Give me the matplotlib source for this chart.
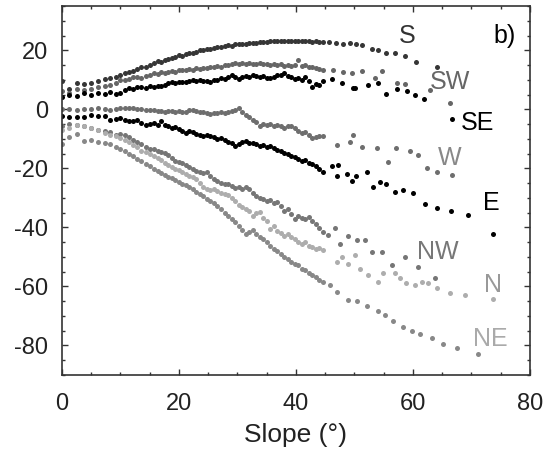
import numpy as np
import matplotlib
matplotlib.use("Agg")
import matplotlib.pyplot as plt
from matplotlib.ticker import MultipleLocator

plt.rcParams['font.family'] = ['Liberation Sans', 'DejaVu Sans']
plt.rcParams['axes.unicode_minus'] = False

# slope positions shared by all aspects up to ~45 deg
slope = [0, 1.2, 2.5, 3.8, 5, 6.2, 7.3, 8.3, 9.2, 10, 10.8, 11.5, 12.2, 12.9, 13.6,
         14.3, 15, 15.7, 16.4, 17, 17.6, 18.2, 18.8, 19.4, 20, 20.6, 21.2, 21.8,
         22.4, 23, 23.6, 24.2, 24.8, 25.4, 26, 26.6, 27.2, 27.8, 28.4, 29, 29.6,
         30.2, 30.8, 31.4, 32, 32.6, 33.2, 33.8, 34.4, 35, 35.6, 36.2, 36.8, 37.4,
         38, 38.6, 39.2, 39.8, 40.4, 41, 41.6, 42.2, 42.8, 43.4, 44, 44.6]

S = [9.7, 7, 9, 8.5, 9, 9.6, 10.2, 10.5, 11, 11.5, 12.3, 12.7, 13, 13.8, 14.4,
     14.2, 15, 15.8, 16.4, 15.9, 16.6, 17.2, 17.5, 17.9, 18.3, 18.1, 18.8, 19.2,
     19, 19.6, 20, 20.1, 20.5, 20.4, 20.9, 21.2, 21, 21.5, 21.7, 21.6, 22,
     22.1, 22.3, 22.2, 22.5, 22.6, 22.5, 22.8, 22.9, 22.8, 23, 23, 23.1, 23,
     23.2, 23.2, 23.1, 23.3, 23.1, 23.2, 23, 23.1, 22.9, 23, 22.8, 22.9]
S_tail_x = [45.6, 46.8, 48, 49.2, 50.3, 51.3, 53, 54, 55.5, 56.9, 58.6, 60.6, 64.1]
S_tail_y = [22.7, 22.6, 22.2, 22.4, 22, 21.7, 20.6, 20, 19.1, 19.1, 18, 16.1, 14.4]

SW = [6.2, 5.5, 6.8, 6.5, 7, 7.6, 8, 8.2, 9, 9.9, 10.1, 10.3, 10.8, 11, 10.6,
      11.4, 11.8, 12.2, 12, 12.5, 12.3, 12.8, 13, 12.7, 13.2, 13.4, 13.3, 13.6,
      13.5, 13.9, 13.7, 14.1, 13.9, 14.3, 14.2, 14.6, 14.4, 14.9, 15, 15.3, 15.6,
      15.2, 15.6, 15.4, 15.8, 15.5, 15.3, 15.7, 15.2, 15.5, 15.1, 15.4, 15, 15.2,
      14.8, 15.1, 14.7, 15, 16.6, 14.6, 14.9, 14.2, 14.4, 14, 13.6, 13.3]
SW_tail_x = [46.3, 48, 49.6, 51.3, 53.5, 54.7, 57.3, 58.6, 62.9, 66.3]
SW_tail_y = [13.3, 12.7, 12.4, 13, 10.6, 12.9, 8.9, 8.6, 6.5, 2.2]

SE = [4.3, 5, 4.6, 5.5, 5, 5.6, 5.2, 5.8, 5.2, 5.6, 6.4, 7.2, 6.8, 7.5, 7.7,
      7.4, 7.8, 7.6, 8, 7.9, 8.3, 8.9, 9.3, 8.9, 9.1, 9.4, 9.3, 9.7,
      9.9, 9.6, 9.9, 9.7, 9.5, 9.3, 9.8, 10, 10.6, 10.2, 11, 11.5, 10.8,
      10.4, 10.9, 11.4, 11.1, 11.6, 11.2, 10.8, 11.3, 10.7, 10.5, 11, 11.5, 11.8,
      12.2, 11.4, 10.9, 10.3, 10.6, 9.9, 10.8, 9.6, 7.7, 8.6, 8.2, 9.5]
SE_tail_x = [46.2, 47.9, 49.7, 50.1, 52.3, 54, 55.5, 57.3, 59, 60.3, 61.9, 66.7]
SE_tail_y = [10.2, 8.9, 7.4, 7.3, 8.2, 8.9, 5.2, 7, 6.3, 5, 3.5, -3.3]

W = [0.1, 0, -0.2, 0.1, 0.2, 0.3, 0, -0.3, 0.2, 0.4, 0.5, 0.6, 0.3, 0.1, 0,
     -0.1, -0.3, -0.2, -0.5, -0.4, -0.8, -0.5, -0.7, -0.9, -0.6, -1, -0.8, -0.3,
     -0.1, -0.6, -1, -0.8, -1.2, -1.5, -1.1, -1.3, -0.9, -1.2, -1, -0.6, -0.2,
     0.4, -0.8, -1.8, -2.5, -3.5, -4.2, -5.8, -5, -5.4, -4.9, -5.5, -5.2, -5.6,
     -6.2, -5.5, -5.8, -6.4, -7.5, -8, -7.6, -8.6, -9.7, -9.3, -9, -9.2]
W_tail_x = [47, 49.2, 49.7, 51.3, 53.8, 55.8, 57.2, 59.5, 60.9, 62.4, 64.1, 66.7]
W_tail_y = [-12, -10.9, -8.6, -12.6, -13, -17.9, -13, -14.2, -15.6, -19.8, -21.3, -22.2]

E = [-2.4, -2.5, -2.6, -2.5, -1.8, -2.3, -2.4, -3.5, -3.2, -3, -3.6, -4.1, -3.8, -3.5, -4.5,
     -5.2, -4.9, -4.6, -5.2, -4.1, -5.4, -5.8, -6.2, -5.9, -6.6, -7.2, -8, -7.4,
     -7.8, -8.4, -8.8, -9.1, -8.6, -9, -9.5, -9.9, -9.6, -10.3, -10.9, -11.5, -12.5,
     -11.8, -11.2, -10.8, -11.5, -11.3, -11.9, -12.3, -12.1, -12.7, -12.5, -13.2, -13.8, -14.2,
     -14.7, -15.2, -15.9, -16.3, -16.8, -17.5, -17.1, -18.2, -18.5, -19.2, -20.3, -21.4]
E_tail_x = [46.2, 47, 47.2, 48.7, 49.6, 50.2, 52.1, 53.2, 54.4, 55.5, 56.9, 58.3,
            60, 62.1, 64.1, 66.5, 69.4, 73.7]
E_tail_y = [-19.2, -22.6, -18.7, -22, -24.3, -22.6, -21.4, -26.4, -24.7, -25.4, -28, -27.4,
            -28.2, -32.1, -33.4, -34.5, -35.8, -42.4]

NW = [-5.5, -4.8, -5.3, -5.6, -6.2, -6.9, -7.3, -7.8, -8.6, -8.3, -8.6, -9.5, -10.4, -11.2, -11.9,
      -12.8, -13.6, -13.3, -14.2, -14.6, -14.9, -15.5, -16.4, -17.5, -17.9, -18.3, -18.7, -19.5,
      -20.2, -20.9, -21.2, -21.6, -21.4, -22.5, -23.6, -24.3, -24.8, -25.4, -25.2, -26, -26.8,
      -26.3, -27, -26.4, -27, -28.5, -29.3, -30, -30.4, -31, -30.7, -31.6, -31.4, -32.8,
      -34.4, -33.9, -35.5, -37.1, -36, -36.8, -37.3, -36.5, -38, -38.8, -40.2, -41.5]
NW_tail_x = [45.5, 46.7, 47.5, 48.9, 50.4, 51.8, 53, 54.7, 56.4, 58.6, 60.9, 63.8]
NW_tail_y = [-42.5, -40.2, -45.5, -42.8, -44.4, -44.4, -48.2, -48.2, -52.8, -49.9, -53.3, -57.3]

N = [-7.1, -6.2, -5.3, -5.8, -6.2, -7, -7.9, -8.6, -9.2, -9.8, -10.5, -10.9, -12.1, -12.8, -14,
     -14.6, -15.3, -15.9, -16.4, -17.3, -18.2, -18.8, -19.4, -20.1, -20.5, -21.2, -21.8, -22.5,
     -23.1, -23.7, -24.9, -26.2, -27, -27.4, -27.1, -27.6, -28.3, -28.7, -29.2, -30, -31.2,
     -32.5, -33.1, -33.8, -34.6, -36, -35.2, -34.8, -36.9, -37.7, -40.5, -39.6, -41.2, -42,
     -42.8, -42.3, -43.4, -44, -44.8, -45.5, -45, -46.3, -46.8, -47.2, -47, -47.8]
N_tail_x = [47, 47.9, 48.9, 50.1, 50.9, 52.3, 54, 54.9, 56.9, 57.8, 58.9, 60.3,
            61.5, 62.6, 64.1, 66.3, 69, 73.7]
N_tail_y = [-51.7, -49.9, -52.3, -49.5, -54, -56.2, -58.4, -55.6, -55.6, -57.3, -59, -59.6,
            -58.4, -59, -60.4, -62.3, -63, -64.3]

NE = [-11.9, -9.5, -8.2, -10.8, -10.3, -10.9, -11.3, -11.9, -12.8, -13.6, -14.2, -15.2, -15.9, -16.8, -17.6,
      -18.4, -19.3, -20.3, -20.8, -21.5, -22.2, -22.8, -23.2, -23.9, -24.5, -25.2, -25.8, -26.4,
      -27, -27.9, -28.6, -29.5, -30.4, -31.2, -31.8, -32.7, -33.8, -35.1, -36, -37, -38.2,
      -39.6, -41, -42.2, -41.6, -41, -42.3, -43.2, -43.9, -45.1, -46.2, -47.2, -48, -49.1,
      -49.9, -50.6, -51.8, -52.3, -52.8, -54, -54.6, -55.5, -56.2, -56.9, -57.9, -58.5]
NE_tail_x = [45.8, 47, 48.9, 50.4, 52.1, 54, 55.2, 56.6, 58.3, 59.8, 61.2, 63.2, 65.1, 67.5, 71.1]
NE_tail_y = [-59.6, -62, -64.6, -65, -66.7, -68.3, -69.6, -71.7, -73.9, -75, -76.1, -77.5,
             -79.4, -80.8, -82.8]

series = [
    ("S", S, S_tail_x, S_tail_y, "#363636", (59.1, 24.7), "#333333"),
    ("SW", SW, SW_tail_x, SW_tail_y, "#666666", (66.3, 9.2), "#666666"),
    ("SE", SE, SE_tail_x, SE_tail_y, "#000000", (71.1, -4.5), "#000000"),
    ("W", W, W_tail_x, W_tail_y, "#6e6e6e", (66.3, -16.6), "#888888"),
    ("E", E, E_tail_x, E_tail_y, "#000000", (73.5, -31.8), "#000000"),
    ("NW", NW, NW_tail_x, NW_tail_y, "#767676", (64.3, -48.2), "#777777"),
    ("N", N, N_tail_x, N_tail_y, "#adadad", (73.7, -59.6), "#999999"),
    ("NE", NE, NE_tail_x, NE_tail_y, "#888888", (73.2, -77.9), "#aaaaaa"),
]

fig = plt.figure(figsize=(5.53, 4.68), dpi=100)
ax = fig.add_axes([0.112, 0.199, 0.846, 0.788])

for name, ys, tx, ty, col, lpos, lcol in series:
    x = list(slope) + tx
    y = list(ys) + ty
    ax.plot(x, y, 'o', ms=3.6, color=col, mec='none')
    ax.text(lpos[0], lpos[1], name, color=lcol, fontsize=18, ha='center', va='center')

ax.text(75.7, 24.7, "b)", fontsize=18, ha='center', va='center')

ax.set_xlim(0, 80)
ax.set_ylim(-90, 35)
ax.xaxis.set_major_locator(MultipleLocator(20))
ax.xaxis.set_minor_locator(MultipleLocator(5))
ax.yaxis.set_major_locator(MultipleLocator(20))
ax.yaxis.set_minor_locator(MultipleLocator(5))
ax.tick_params(which='both', direction='in', top=True, right=True, colors='#333333',
               labelcolor='#222222', labelsize=17, width=1)
ax.tick_params(which='major', length=4)
ax.tick_params(axis='x', which='major', pad=13)
ax.tick_params(axis='y', which='major', pad=10)
ax.tick_params(which='minor', length=2.5)
for sp in ax.spines.values():
    sp.set_color('#333333')
    sp.set_linewidth(1.2)
ax.set_xlabel("Slope (°)", fontsize=19, color='#222222', labelpad=6)

fig.savefig("out.png", dpi=100)
